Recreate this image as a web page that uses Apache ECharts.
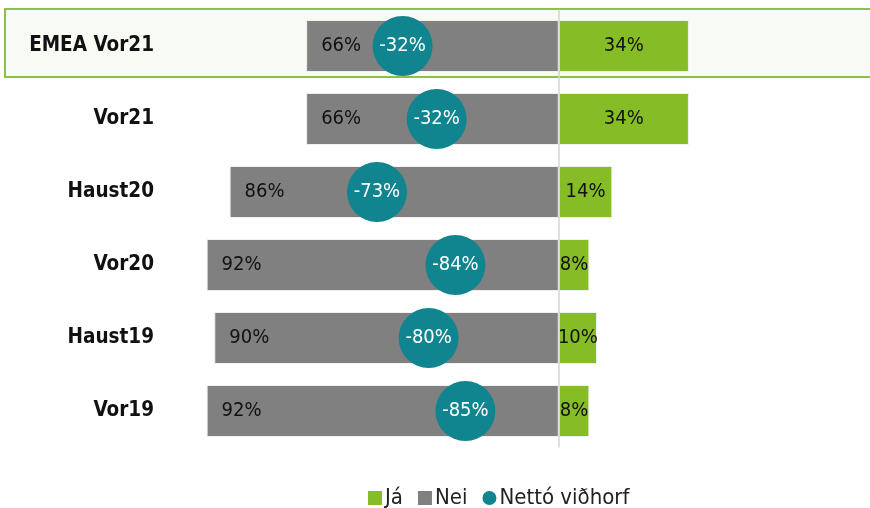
<!DOCTYPE html>
<html>
<head>
<meta charset="utf-8">
<script src="https://cdn.jsdelivr.net/npm/echarts@6/dist/echarts.min.js"></script>
<style>
  html, body { margin: 0; padding: 0; background: #ffffff; }
  #chart { width: 870px; height: 508px; }
</style>
</head>
<body>
<div id="chart"></div>
<script>
// Data
const categories = ['EMEA Vor21', 'Vor21', 'Haust20', 'Vor20', 'Haust19', 'Vor19'];
const jaValues = [34, 34, 14, 8, 10, 8];          // Já (%)
const neiValues = [66, 66, 86, 92, 90, 92];       // Nei (%)
const nettoValues = [-32, -32, -73, -84, -80, -85]; // Nettó viðhorf (label values, %)
const nettoPositions = [-40.8, -31.9, -47.5, -27, -34, -24.4]; // where the bubbles sit on the axis

const FONT = "'Liberation Sans Narrow', 'DejaVu Sans Condensed', 'Open Sans', sans-serif";

const chart = echarts.init(document.getElementById('chart'), null, { renderer: 'canvas' });

const option = {
  backgroundColor: '#ffffff',
  animation: false,
  textStyle: { fontFamily: FONT },
  graphic: [{
    type: 'rect',
    z: -10,
    shape: { x: 5, y: 9, width: 870, height: 68 },
    style: { fill: '#f8fbf3', stroke: '#8cc23f', lineWidth: 2 }
  }],
  grid: { left: 176, right: 5, top: 9.5, bottom: 60.5, containLabel: false },
  xAxis: {
    type: 'value', min: -100, max: 80, show: false
  },
  yAxis: {
    type: 'category', data: categories, inverse: true,
    axisLine: { show: false }, axisTick: { show: false }, splitLine: { show: false },
    axisLabel: { margin: 22, fontSize: 20.5, fontWeight: 'bold', color: '#111', fontFamily: FONT }
  },
  legend: {
    left: 368, top: 487, padding: 0,
    itemWidth: 14, itemHeight: 14, itemGap: 15,
    itemStyle: { borderWidth: 0 },
    textStyle: { fontSize: 22, color: '#222', fontFamily: FONT, padding: [0, 0, 0, -2] },
    data: [
      { name: 'Já', icon: 'rect' },
      { name: 'Nei', icon: 'rect' },
      { name: 'Nettó viðhorf', icon: 'circle' }
    ]
  },
  series: [
    {
      name: 'Nei', type: 'bar', stack: 'total', barWidth: 52,
      data: neiValues.map(v => -v),
      itemStyle: { color: '#808080', borderColor: '#f0f0f0', borderWidth: 1 },
      label: {
        show: true, position: 'insideLeft', distance: 15,
        formatter: p => Math.abs(p.value) + '%',
        fontSize: 20, color: '#111', fontFamily: FONT
      }
    },
    {
      name: 'Já', type: 'bar', stack: 'total', barWidth: 52,
      data: jaValues,
      itemStyle: { color: '#86bc25', borderColor: '#f0f0f0', borderWidth: 1 },
      label: {
        show: true, position: 'inside',
        formatter: p => p.value + '%',
        fontSize: 20, color: '#111', fontFamily: FONT
      },
      markLine: {
        silent: true, symbol: 'none',
        label: { show: false },
        lineStyle: { color: '#d4d4d4', width: 1.5, type: 'solid' },
        data: [{ xAxis: 0 }]
      }
    },
    {
      name: 'Nettó viðhorf', type: 'scatter', z: 5,
      symbol: 'circle', symbolSize: 60,
      data: nettoPositions.map((x, i) => [x, i]),
      itemStyle: { color: '#10848f', opacity: 1 },
      label: {
        show: true, position: 'inside',
        formatter: p => nettoValues[p.dataIndex] + '%',
        fontSize: 20, color: '#ffffff', fontFamily: FONT
      }
    }
  ]
};

chart.setOption(option);
</script>
</body>
</html>
